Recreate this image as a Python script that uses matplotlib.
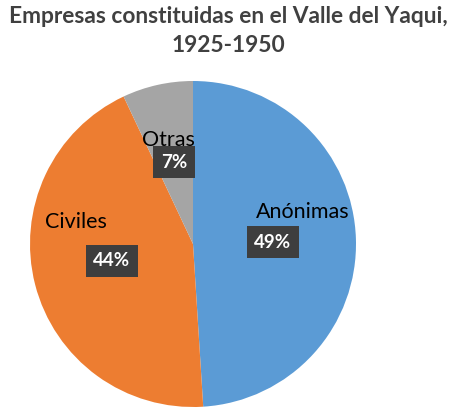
import matplotlib
matplotlib.use("Agg")
import matplotlib.pyplot as plt

categories = ["Anónimas", "Civiles", "Otras"]
values = [49, 44, 7]
colors = ["#5B9BD5", "#ED7D31", "#A5A5A5"]
pct_labels = ["49%", "44%", "7%"]

W, H = 457, 417
fig = plt.figure(figsize=(W / 100, H / 100), dpi=100)
fig.patch.set_facecolor("white")

cx, cy, r = 193, 244, 163
ax = fig.add_axes([(cx - r) / W, (H - cy - r) / H, 2 * r / W, 2 * r / H])
ax.pie(values, colors=colors, startangle=90, counterclock=False, radius=1,
       wedgeprops=dict(linewidth=0))
ax.set_xlim(-1, 1)
ax.set_ylim(-1, 1)
ax.set_aspect("equal")
ax.axis("off")

# label positions (pixel coordinates in the figure)
name_pos = [(303, 212), (76, 222), (168, 140)]
pct_pos = [(273, 242), (112, 261), (174, 162)]

def to_data(p):
    return ((p[0] - cx) / r, (cy - p[1]) / r)

for name, pct, npos, ppos in zip(categories, pct_labels, name_pos, pct_pos):
    x, y = to_data(npos)
    ax.text(x, y, name, ha="center", va="center", fontsize=15.5,
            family="Lato", color="black")
    x, y = to_data(ppos)
    ax.text(x, y, pct, ha="center", va="center", fontsize=13.5,
            family="Lato", fontweight="bold", color="white",
            bbox=dict(boxstyle="square,pad=0.42", facecolor="#3e3e3e",
                      edgecolor="none"))

fig.text(0.5, 1 - 31 / H, "Empresas constituidas en el Valle del Yaqui,\n1925-1950",
         ha="center", va="center", fontsize=16.4, fontweight="bold",
         family="Lato", color="#404040", linespacing=1.45)

fig.savefig("out.png", dpi=100)
